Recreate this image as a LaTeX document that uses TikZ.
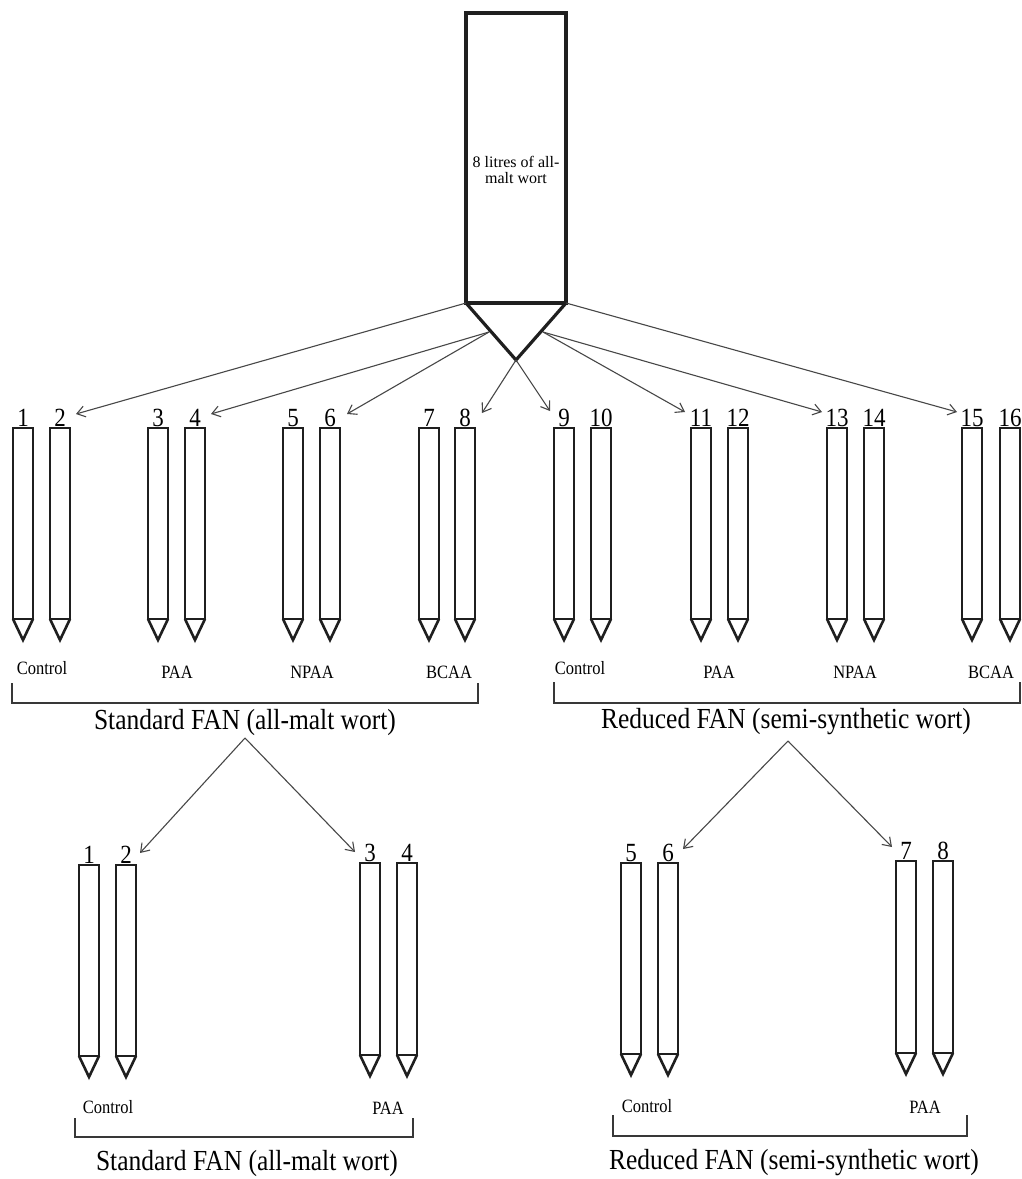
\documentclass[tikz,border=0pt]{standalone}
\usepackage{fontspec}
\setmainfont{Liberation Serif}
\usetikzlibrary{arrows.meta}
\newcommand\vs[1]{\scalebox{1}[1.14]{#1}}
% #1 name, #2 x centre, #3 top y, #4 rect bottom y, #5 number
\newcommand\mytube[5]{%
  \draw[tubeline] (#2-10,#3) rectangle (#2+10,#4);
  \draw[tubeline] (#2-10,#4) -- (#2,#4+21) -- (#2+10,#4);
  \node[num] (#1) at (#2,#3-1) {\vs{#5}};
}
\begin{document}
\begin{tikzpicture}[x=1pt,y=-1pt,
  tubeline/.style={line width=2.6pt, draw=black!88, line join=miter},
  vesselline/.style={line width=3.2pt, draw=black!88, line join=miter},
  flow/.style={draw=black!72, line width=1.1pt, -{Straight Barb[length=8pt,width=11pt]}},
  brk/.style={draw=black!78, line width=1.3pt},
  num/.style={inner sep=0pt, anchor=south, font=\fontsize{23}{23}\selectfont},
  lab/.style={inner sep=0pt, font=\fontsize{16.5}{18}\selectfont},
  big/.style={inner sep=0pt, font=\fontsize{25.5}{28}\selectfont}]
\useasboundingbox[fill=white] (0,0) rectangle (1022,1179);

% ---- vessel
\draw[vesselline] (466,13) rectangle (566,303);
\draw[vesselline] (466,303) -- (516,360) -- (566,303);
\node[inner sep=0pt, align=center, font=\fontsize{16}{16}\selectfont] (vessel) at (516,170) {8 litres of all-\\malt wort};
\coordinate (vl) at (466,303);
\coordinate (vr) at (566,303);
\coordinate (ap) at (516,360);
\coordinate (cl) at (489,332);
\coordinate (cr) at (543,332);

% ---- first row of tubes
\foreach \nm/\xx in {1/23,2/60,3/158,4/195,5/293,6/330,7/429,8/465,9/564,10/601,11/701,12/738,13/837,14/874,15/972,16/1010}{
  \mytube{t\nm}{\xx}{428}{619}{\nm}
}

% arrow ends
\coordinate (a2) at (76,414);
\coordinate (a4) at (211,414);
\coordinate (a6) at (347,414);
\coordinate (a8) at (482,413);
\coordinate (a9) at (550,411);
\coordinate (a11) at (685,412);
\coordinate (a13) at (822,412);
\coordinate (a15) at (957,412);

\draw[flow] (vl) -- (a2);
\draw[flow] (cl) -- (a4);
\draw[flow] (cl) -- (a6);
\draw[flow] (ap) -- (a8);
\draw[flow] (ap) -- (a9);
\draw[flow] (cr) -- (a11);
\draw[flow] (cr) -- (a13);
\draw[flow] (vr) -- (a15);

% labels row 1
\node[lab] (l1) at (42,668) {\vs{Control}};
\node[lab] (l2) at (177,672) {\vs{PAA}};
\node[lab] (l3) at (312,672) {\vs{NPAA}};
\node[lab] (l4) at (449,672) {\vs{BCAA}};
\node[lab] (l5) at (580,668) {\vs{Control}};
\node[lab] (l6) at (719,672) {\vs{PAA}};
\node[lab] (l7) at (855,672) {\vs{NPAA}};
\node[lab] (l8) at (991,672) {\vs{BCAA}};

% brackets row 1
\draw[brk] (12,683) -- (12,703) -- (478,703) -- (478,683);
\draw[brk] (554,682) -- (554,703) -- (1020,703) -- (1020,682);

\node[big] (std1) at (245,722) {\vs{Standard FAN (all-malt wort)}};
\node[big] (red1) at (786,722) {\vs{Reduced FAN (semi-synthetic wort)}};

% ---- second level
\coordinate (sp) at (245,738);
\coordinate (rp) at (788,741);
\coordinate (b2) at (140,853);
\coordinate (b3) at (355,852);
\coordinate (b6) at (683,849);
\coordinate (b7) at (892,847);
\draw[flow] (sp) -- (b2);
\draw[flow] (sp) -- (b3);
\draw[flow] (rp) -- (b6);
\draw[flow] (rp) -- (b7);

\mytube{s1}{89}{865}{1056}{1}
\mytube{s2}{126}{865}{1056}{2}
\mytube{s3}{370}{863}{1055}{3}
\mytube{s4}{407}{863}{1055}{4}
\mytube{r5}{631}{863}{1054}{5}
\mytube{r6}{668}{863}{1054}{6}
\mytube{r7}{906}{861}{1053}{7}
\mytube{r8}{943}{861}{1053}{8}

\node[lab] (m1) at (108,1107) {\vs{Control}};
\node[lab] (m2) at (388,1108) {\vs{PAA}};
\node[lab] (m3) at (647,1106) {\vs{Control}};
\node[lab] (m4) at (925,1107) {\vs{PAA}};

\draw[brk] (75,1118) -- (75,1137) -- (413,1137) -- (413,1118);
\draw[brk] (613,1115) -- (613,1136) -- (967,1136) -- (967,1115);

\node[big] (std2) at (247,1163) {\vs{Standard FAN (all-malt wort)}};
\node[big] (red2) at (794,1163) {\vs{Reduced FAN (semi-synthetic wort)}};
\end{tikzpicture}
\end{document}
